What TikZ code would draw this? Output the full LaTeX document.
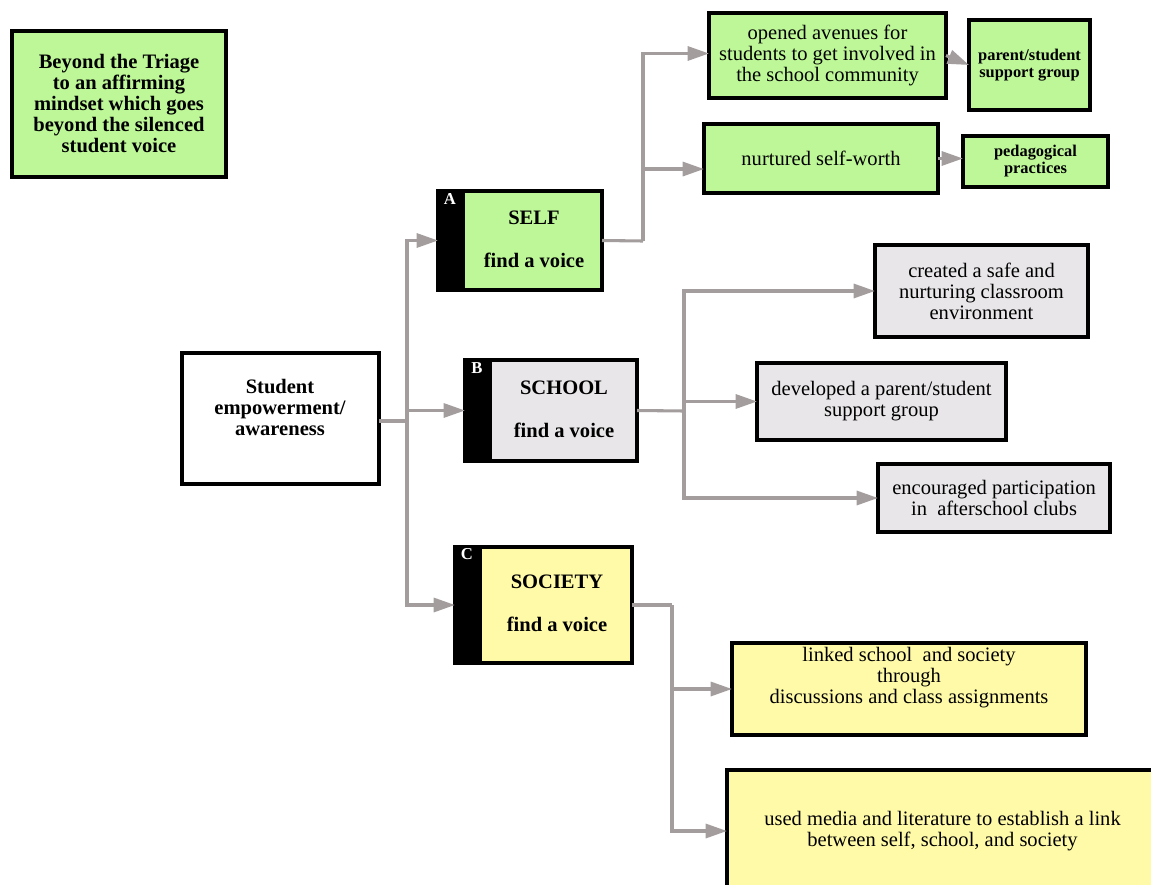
\documentclass[tikz,border=0pt]{standalone}
\usepackage{fontspec}
\setmainfont{Liberation Serif}
\usetikzlibrary{arrows.meta}
\definecolor{bgreen}{RGB}{190,247,152}
\definecolor{bgray}{RGB}{232,230,232}
\definecolor{byellow}{RGB}{255,250,168}
\definecolor{cgray}{RGB}{164,157,157}
\tikzset{
  wh/.style 2 args={minimum width=#1*0.75pt, minimum height=#2*0.75pt},
  box/.style={draw=black, line width=2.6pt, inner sep=0pt, outer sep=0pt, rectangle, align=center,
    font=\fontsize{15.4}{15.75}\selectfont},
  boldbox/.style={box, font=\fontsize{15.4}{15.75}\selectfont\bfseries},
  smallbox/.style={box, font=\fontsize{12.3}{12.75}\selectfont\bfseries},
  txt/.style={inner sep=0pt, align=center, font=\fontsize{15.4}{15.75}\selectfont},
  btxt/.style={txt, font=\fontsize{15.4}{15.75}\selectfont\bfseries},
  letter/.style={inner sep=0pt, text=white, font=\fontsize{12.5}{12.5}\selectfont\bfseries},
  conn/.style={draw=cgray, line width=2.3pt},
  arr/.style={conn, -{Triangle[length=16pt,width=10.5pt]}},
}
\begin{document}
\begin{tikzpicture}[x=0.75pt, y=-0.75pt]
\clip (0,0) rectangle (1151,884);
\fill[white] (0,0) rectangle (1151,884);

% title
\node[boldbox, fill=bgreen, wh={214}{146}] (title) at (119,104)
  {Beyond the Triage\\to an affirming\\mindset which goes\\beyond the silenced\\student voice};

% root
\node[box, fill=white, wh={197}{131}] (root) at (280.5,418.5) {};
\node[btxt] (rootT) at (280,407) {Student\\empowerment/\\awareness};

% A / B / C
\node[box, fill=bgreen, wh={164}{99}] (A) at (520,240.5) {};
\fill[black] (A.north west) rectangle ([xshift=20.25pt]A.south west);
\draw[line width=2.6pt] (A.north west) rectangle (A.south east);
\node[letter] (Al) at (450,199) {A};
\node[btxt] (At1) at (534,218) {SELF};
\node[btxt] (At2) at (534,260) {find a voice};

\node[box, fill=bgray, wh={172}{101}] (B) at (551,410.5) {};
\fill[black] (B.north west) rectangle ([xshift=20.25pt]B.south west);
\draw[line width=2.6pt] (B.north west) rectangle (B.south east);
\node[letter] (Bl) at (477,368) {B};
\node[btxt] (Bt1) at (564,388) {SCHOOL};
\node[btxt] (Bt2) at (564,430) {find a voice};

\node[box, fill=byellow, wh={177}{116}] (C) at (543.5,605) {};
\fill[black] (C.north west) rectangle ([xshift=20.25pt]C.south west);
\draw[line width=2.6pt] (C.north west) rectangle (C.south east);
\node[letter] (Cl) at (467,554) {C};
\node[btxt] (Ct1) at (557,582) {SOCIETY};
\node[btxt] (Ct2) at (557,624) {find a voice};

% SELF branch
\node[box, fill=bgreen, wh={237}{85}] (opened) at (827.5,55.5)
  {opened avenues for\\students to get involved in\\the school community};
\node[smallbox, fill=bgreen, wh={121}{90}] (parent) at (1029.5,65)
  {parent/student\\support group};
\node[box, fill=bgreen, wh={234}{69}] (nurtured) at (821,158.5) {nurtured self-worth};
\node[smallbox, fill=bgreen, wh={145}{51}] (pedag) at (1035.5,161.5)
  {pedagogical\\practices};

% SCHOOL branch
\node[box, fill=bgray, wh={213}{92}] (safe) at (981.5,291)
  {created a safe and\\nurturing classroom\\environment};
\node[box, fill=bgray, wh={249}{77}] (developed) at (881.5,401.5)
  {developed a parent/student\\support group};
\node[box, fill=bgray, wh={232}{68}] (encouraged) at (994,498)
  {encouraged participation\\in~ afterschool clubs};

% SOCIETY branch
\node[box, fill=byellow, wh={354}{92}] (linked) at (909,689) {};
\node[txt] (linkedT) at (909,678)
  {linked school~ and society\\through\\discussions and class assignments};
\node[box, fill=byellow, wh={431}{122}] (used) at (942.5,831)
  {used media and literature to establish a link\\between self, school, and society};

% connectors
\coordinate (j0) at (407,421);
\draw[conn] (root.east |- j0) -- (j0);
\draw[arr] (j0) |- (A.west);
\draw[arr] (j0) |- (B.west);
\draw[arr] (j0) |- (C.west);

\coordinate (jA) at (643,241);
\draw[conn] (A.east) -- (jA);
\draw[arr] (jA) |- ([yshift=1.5pt]opened.west);
\draw[arr] (jA) |- ([yshift=-7.9pt]nurtured.west);
\draw[arr] (opened.east) -- (parent.west);
\draw[arr] (nurtured.east) -- (pedag.west |- nurtured.east);

\coordinate (jB) at (684,411);
\draw[conn] (B.east) -- (jB);
\draw[arr] (jB) |- (safe.west);
\draw[arr] (jB) |- (developed.west);
\draw[arr] (jB) |- (encouraged.west);

\coordinate (jC) at (672,605);
\draw[conn] (C.east) -- (jC);
\draw[arr] (jC) |- (linked.west);
\draw[arr] (jC) |- (used.west);
\end{tikzpicture}
\end{document}
